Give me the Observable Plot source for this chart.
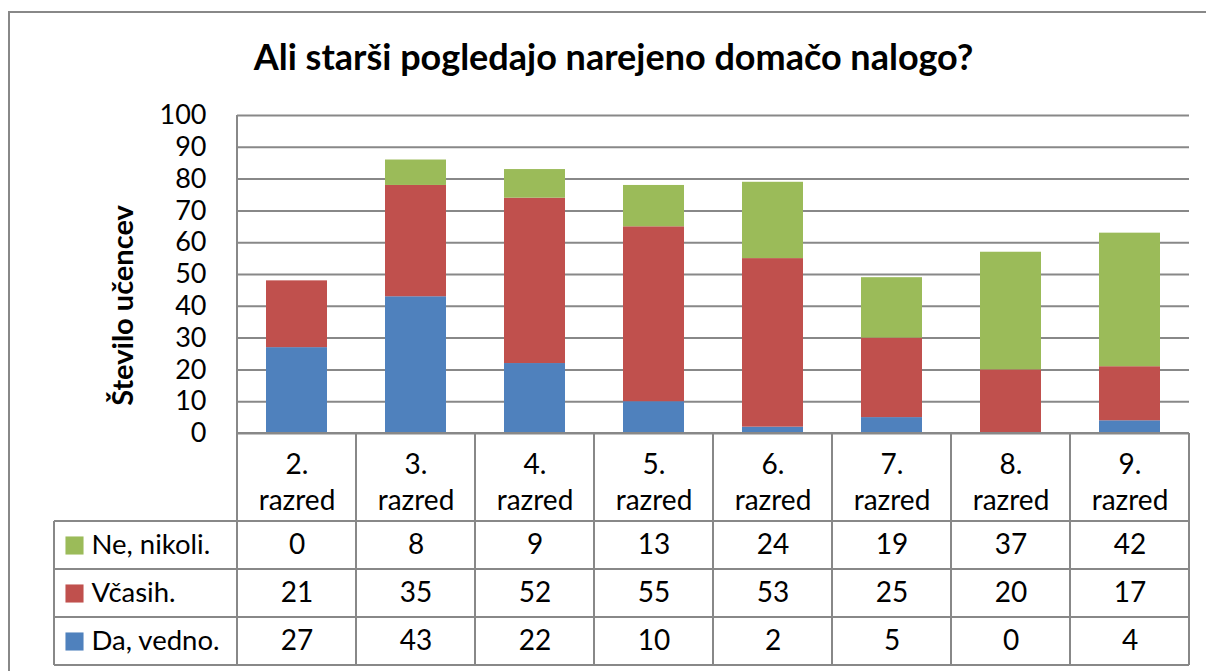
<!DOCTYPE html>
<html><head><meta charset="utf-8">
<script src="https://cdn.jsdelivr.net/npm/d3@7"></script>
<script src="https://cdn.jsdelivr.net/npm/@observablehq/plot@0.6"></script>
<style>body{margin:0;background:#fff} svg{display:block}</style>
</head><body><div id="chart"></div>
<script>
const categories = ["2. razred","3. razred","4. razred","5. razred","6. razred","7. razred","8. razred","9. razred"];
const seriesNames = ["Da, vedno.","Včasih.","Ne, nikoli."];
const daVedno = [27,43,22,10,2,5,0,4];
const vcasih = [21,35,52,55,53,25,20,17];
const neNikoli = [0,8,9,13,24,19,37,42];
const seriesColors = ["#4F81BD","#C0504D","#9BBB59"];
const yTicks = [0,10,20,30,40,50,60,70,80,90,100];
const titleText = "Ali starši pogledajo narejeno domačo nalogo?";
const yLabel = "Število učencev";

const seriesValues = [daVedno, vcasih, neNikoli];
const data = [];
seriesNames.forEach((s, k) => categories.forEach((c, i) => data.push({cat: c, series: s, value: seriesValues[k][i]})));

// table rows, top to bottom
const tableRows = [
  {name: "Ne, nikoli.", values: neNikoli, dy: 112},
  {name: "Včasih.", values: vcasih, dy: 160},
  {name: "Da, vedno.", values: daVedno, dy: 208}
];

const font = "Lato";
const plot = Plot.plot({
  width: 1206, height: 671,
  marginLeft: 237, marginRight: 17, marginTop: 115, marginBottom: 238,
  style: {fontFamily: font, fontSize: "27px", color: "#000", background: "transparent"},
  x: {domain: categories, paddingInner: 0.49, paddingOuter: 0.245, axis: null},
  y: {domain: [0, 100], ticks: yTicks, tickSize: 0, tickPadding: 31, label: null},
  color: {domain: seriesNames, range: seriesColors},
  marks: [
    Plot.ruleY(yTicks, {stroke: "#888888", strokeWidth: 2}),
    Plot.barY(data, {x: "cat", y: "value", fill: "series", order: seriesNames}),
    Plot.text([titleText], {frameAnchor: "top", dx: -100, dy: -57, fontSize: 36, fontWeight: "bold", textAnchor: "middle", lineAnchor: "middle", fill: "#000"}),
    Plot.text([yLabel], {frameAnchor: "left", rotate: -90, dx: -114, dy: 31, fontSize: 29, fontWeight: "bold", textAnchor: "middle", lineAnchor: "middle", fill: "#000"}),
    Plot.text(categories, {x: d => d, text: d => d.replace(" ", "\n"), frameAnchor: "bottom", dy: 47, lineHeight: 1.28, lineAnchor: "middle", fontSize: 28, fill: "#000"}),
    ...tableRows.map(r => Plot.text(r.values, {x: (d, i) => categories[i], text: d => String(d), frameAnchor: "bottom", dy: r.dy, lineAnchor: "middle", fontSize: 28, fill: "#000"})),
    ...tableRows.map(r => Plot.text([r.name], {frameAnchor: "bottom-left", dx: -146, dy: r.dy, textAnchor: "start", lineAnchor: "middle", fontSize: 27.5, fill: "#000"})),
    ...tableRows.map(r => Plot.dot([r.name], {frameAnchor: "bottom-left", dx: -163, dy: r.dy, symbol: "square", r: 10.2, fill: d => d, stroke: null}))
  ]
});

// table grid and frame lines using Plot's x scale
const svg = d3.select(plot);
const xs = plot.scale("x");
const [r0, r1] = xs.range;
const step = (r1 - r0) / categories.length;
const bounds = categories.map((c, i) => r0 + i * step).concat([r1]);
const y0 = 433, legendLeft = 54, rowLines = [521, 569, 617, 665];
const g = svg.append("g").attr("stroke", "#888888").attr("stroke-width", 2).attr("fill", "none");
g.append("rect").attr("x", 9).attr("y", 12).attr("width", 1220).attr("height", 700);
g.append("line").attr("x1", r0).attr("x2", r0).attr("y1", 115).attr("y2", y0);
bounds.forEach(b => g.append("line").attr("x1", b).attr("x2", b).attr("y1", y0).attr("y2", rowLines[3]));
g.append("line").attr("x1", r0).attr("x2", r1).attr("y1", y0).attr("y2", y0);
rowLines.forEach(yy => g.append("line").attr("x1", legendLeft).attr("x2", r1).attr("y1", yy).attr("y2", yy));
g.append("line").attr("x1", legendLeft).attr("x2", legendLeft).attr("y1", rowLines[0]).attr("y2", rowLines[3]);

document.getElementById("chart").appendChild(plot);
</script></body></html>
